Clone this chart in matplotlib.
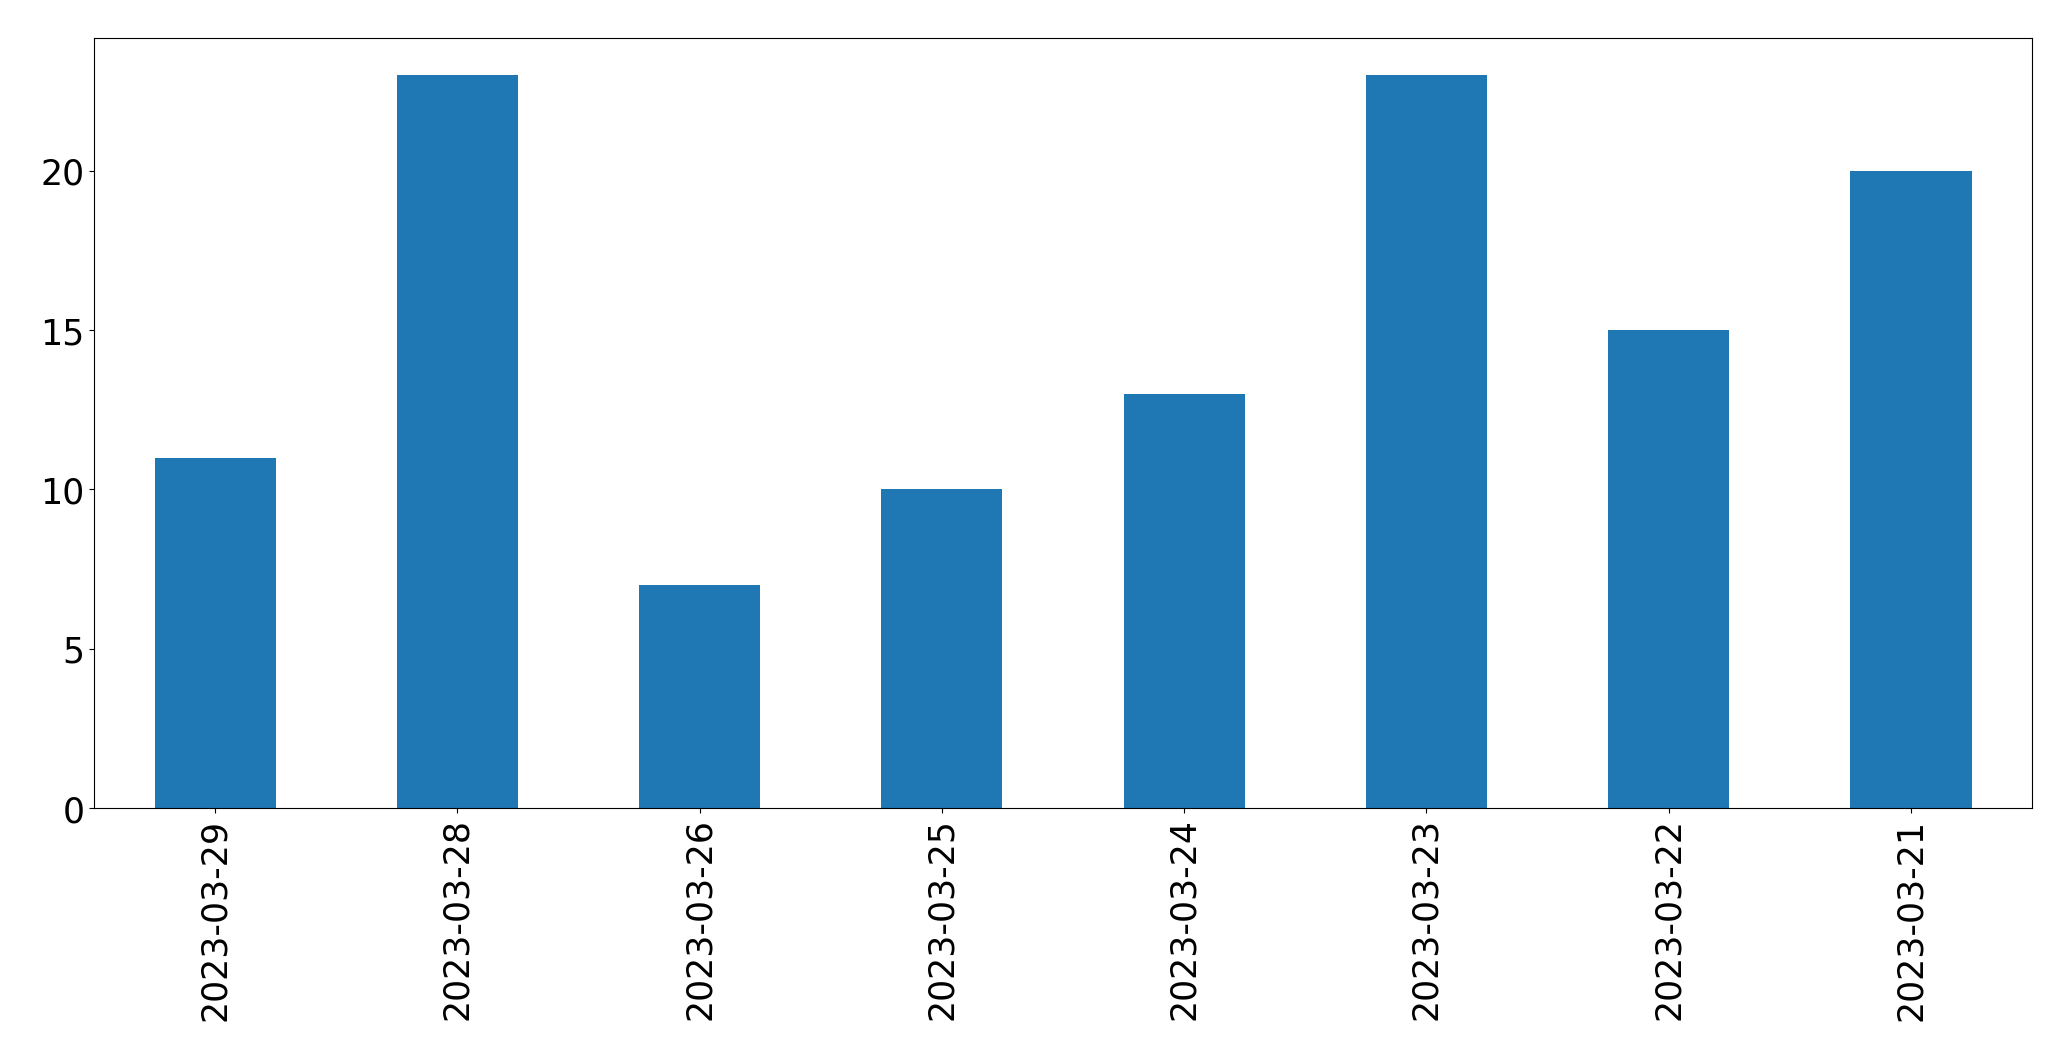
import pandas as pd
import matplotlib
matplotlib.use('Agg')
import matplotlib.pyplot as plt

# Daily counts, in the order they appear on the chart.
dates = ['2023-03-29', '2023-03-28', '2023-03-26', '2023-03-25',
         '2023-03-24', '2023-03-23', '2023-03-22', '2023-03-21']
counts = [11, 23, 7, 10, 13, 23, 15, 20]

def plot_data():
    series = pd.Series(counts, index=dates)

    fig = plt.figure(figsize=(20.71, 10.606), dpi=100)
    ax = fig.add_axes([0.0454, 0.2375, 0.9358, 0.7257])
    series.plot(kind='bar', ax=ax, color='#1f77b4')

    ax.tick_params(axis='both', labelsize=25)
    ax.set_xlabel('')

    fig.savefig('out.png', dpi=100)

def main():
    plot_data()

if __name__ == '__main__':
    main()
